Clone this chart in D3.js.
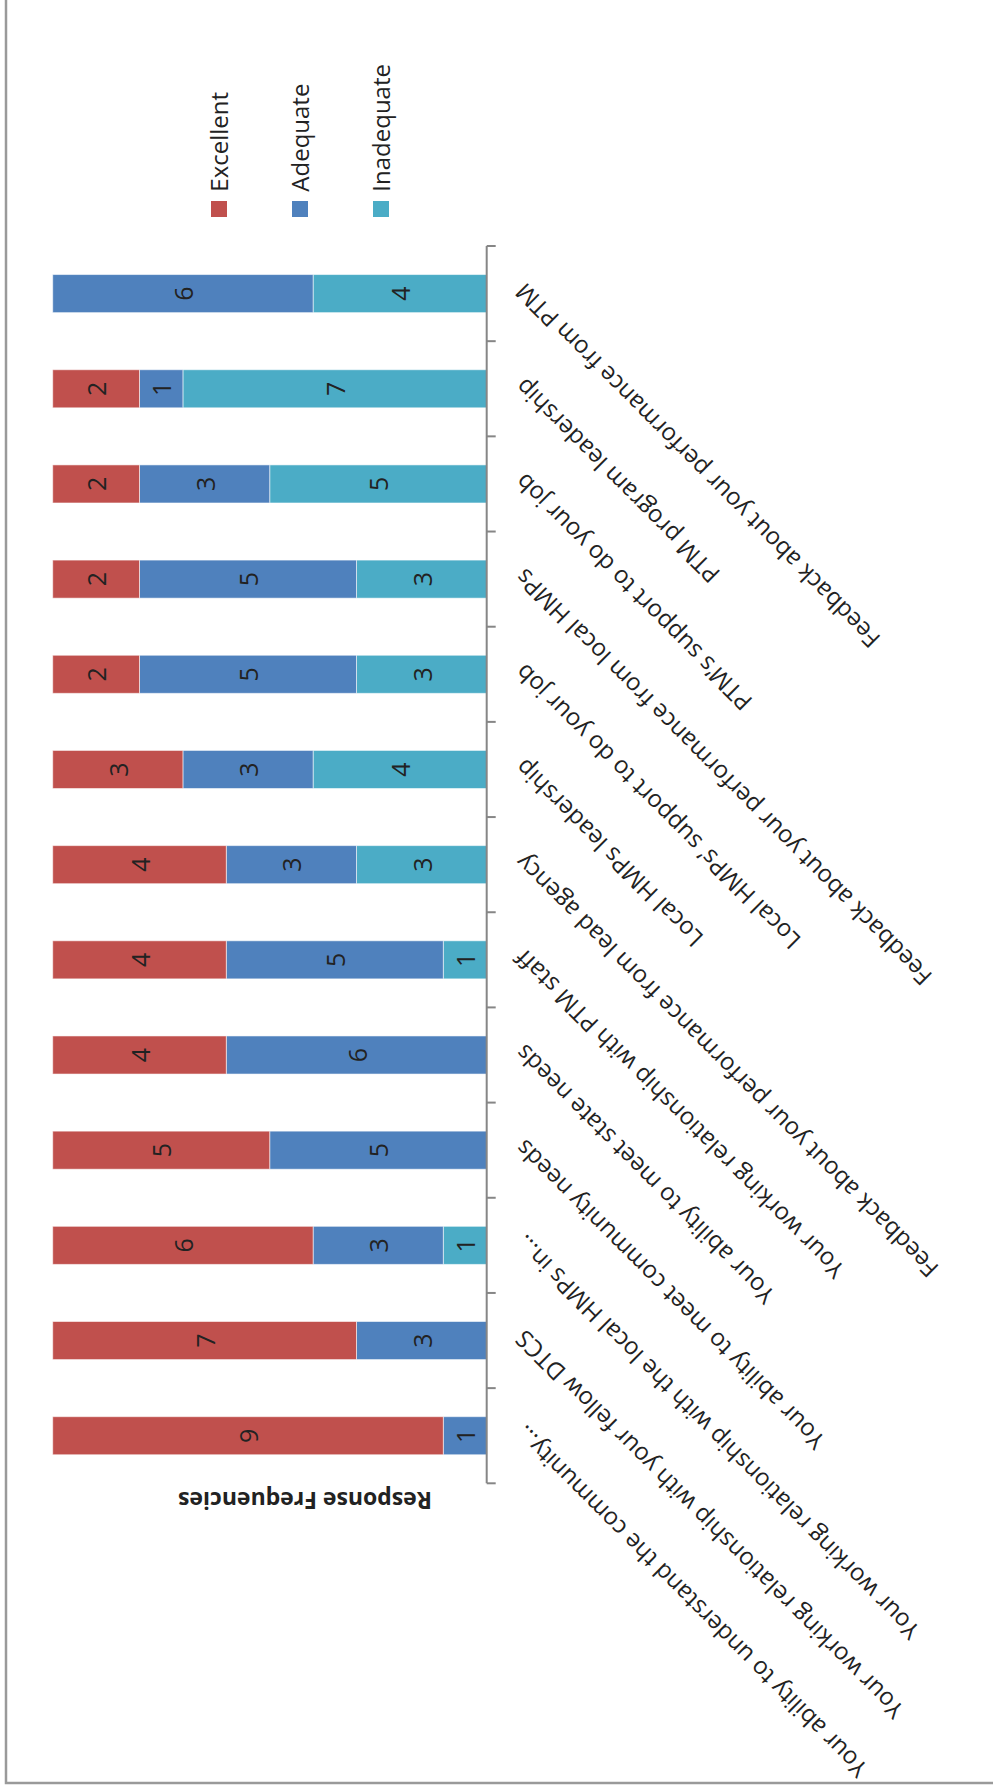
<!DOCTYPE html>
<html>
<head>
<meta charset="utf-8">
<script src="https://cdn.jsdelivr.net/npm/d3@7"></script>
<style>
  body { margin: 0; background: #fff; }
  svg { display: block; }
</style>
</head>
<body>
<script>
// Survey items, in axis order
const categories = [
  "Your ability to understand the community...",
  "Your working relationship with your fellow DTCS",
  "Your working relationship with the local HMPs in...",
  "Your ability to meet community needs",
  "Your ability to meet state needs",
  "Your working relationship with PTM staff",
  "Feedback about your performance from lead agency",
  "Local HMPs leadership",
  "Local HMPs\u2019 support to do your job",
  "Feedback about your performance from local HMPs",
  "PTM\u2019s support to do your job",
  "PTM program leadership",
  "Feedback about your performance from PTM"
];

// Response counts per item
const excellent  = [9, 7, 6, 5, 4, 4, 4, 3, 2, 2, 2, 2, 0];
const adequate   = [1, 3, 3, 5, 6, 5, 3, 3, 5, 5, 3, 1, 6];
const inadequate = [0, 0, 1, 0, 0, 1, 3, 4, 3, 3, 5, 7, 4];

const seriesNames = ["Excellent", "Adequate", "Inadequate"];
const axisTitle = "Response Frequencies";

const W = 993, H = 1787;
const colors = { Excellent: "#C0504D", Adequate: "#4F81BD", Inadequate: "#4BACC6" };
const textColor = "#222";
const font = "'Open Sans', 'Noto Sans', sans-serif";

const svg = d3.select("body").append("svg")
  .attr("width", W).attr("height", H);

// The chart is laid out as a column chart and turned a quarter turn
// counter-clockwise onto the page: (X, Y) -> (Y, H - X).
const g = svg.append("g")
  .attr("transform", `translate(0,${H}) rotate(-90)`);

// chart frame
g.append("rect")
  .attr("x", 4).attr("y", 6)
  .attr("width", H + 20).attr("height", W + 20)
  .attr("fill", "none")
  .attr("stroke", "#9a9a9a")
  .attr("stroke-width", 2.5);

const baseY = 486.7;
const x = d3.scaleBand()
  .domain(categories)
  .range([303.7, 1541])
  .paddingInner(0.6)
  .paddingOuter(0.3);

const y = d3.scaleLinear()
  .domain([0, 10])
  .range([baseY, 52.7]);

// stacked series, Inadequate at the base
const rows = categories.map((c, i) => ({
  category: c,
  Excellent: excellent[i],
  Adequate: adequate[i],
  Inadequate: inadequate[i]
}));
const stackKeys = ["Inadequate", "Adequate", "Excellent"];
const stacked = d3.stack().keys(stackKeys)(rows);

const layers = g.selectAll("g.layer")
  .data(stacked)
  .join("g")
  .attr("class", "layer")
  .attr("fill", d => colors[d.key]);

layers.selectAll("rect")
  .data(d => d.filter(s => s[1] - s[0] > 0))
  .join("rect")
  .attr("x", d => x(d.data.category))
  .attr("width", x.bandwidth())
  .attr("y", d => y(d[1]))
  .attr("height", d => y(d[0]) - y(d[1]))
  .attr("stroke", "rgba(255,255,255,0.55)")
  .attr("stroke-width", 1);

// value labels inside the segments
layers.selectAll("text")
  .data(d => d.filter(s => s[1] - s[0] > 0).map(s => ({ s, key: d.key })))
  .join("text")
  .attr("x", d => x(d.s.data.category) + x.bandwidth() / 2)
  .attr("y", d => (y(d.s[0]) + y(d.s[1])) / 2)
  .attr("text-anchor", "middle")
  .attr("dominant-baseline", "central")
  .attr("fill", textColor)
  .style("font-family", font)
  .style("font-size", "25px")
  .text(d => d.s[1] - d.s[0]);

// category axis: line with ticks between categories
const step = x.step();
const start = x.range()[0];
const boundaries = d3.range(categories.length + 1).map(k => start + k * step);
const axis = g.append("g").attr("class", "axis");
axis.append("line")
  .attr("x1", start).attr("x2", start + categories.length * step)
  .attr("y1", baseY).attr("y2", baseY)
  .attr("stroke", "#868686").attr("stroke-width", 2);
axis.selectAll("line.tick")
  .data(boundaries)
  .join("line")
  .attr("class", "tick")
  .attr("x1", d => d).attr("x2", d => d)
  .attr("y1", baseY).attr("y2", baseY + 9)
  .attr("stroke", "#868686").attr("stroke-width", 2);

axis.selectAll("text")
  .data(categories)
  .join("text")
  .attr("transform", d => `translate(${x(d) + x.bandwidth() / 2 + 12},${baseY + 39}) rotate(-45)`)
  .attr("text-anchor", "end")
  .attr("fill", textColor)
  .style("font-family", font)
  .style("font-size", "24px")
  .text(d => d);

// value axis title
g.append("text")
  .attr("transform", `translate(295,305) rotate(-90)`)
  .attr("text-anchor", "middle")
  .attr("fill", textColor)
  .style("font-family", font)
  .style("font-size", "23px")
  .style("font-weight", "bold")
  .text(axisTitle);

// legend
const legend = g.append("g").attr("class", "legend");
const ly = d3.scalePoint().domain(seriesNames).range([211, 373]);
const items = legend.selectAll("g")
  .data(seriesNames)
  .join("g")
  .attr("transform", d => `translate(1570,${ly(d)})`);
items.append("rect")
  .attr("width", 16).attr("height", 16)
  .attr("fill", d => colors[d]);
items.append("text")
  .attr("x", 25.3).attr("y", 17)
  .attr("fill", textColor)
  .style("font-family", font)
  .style("font-size", "24px")
  .text(d => d);
</script>
</body>
</html>
